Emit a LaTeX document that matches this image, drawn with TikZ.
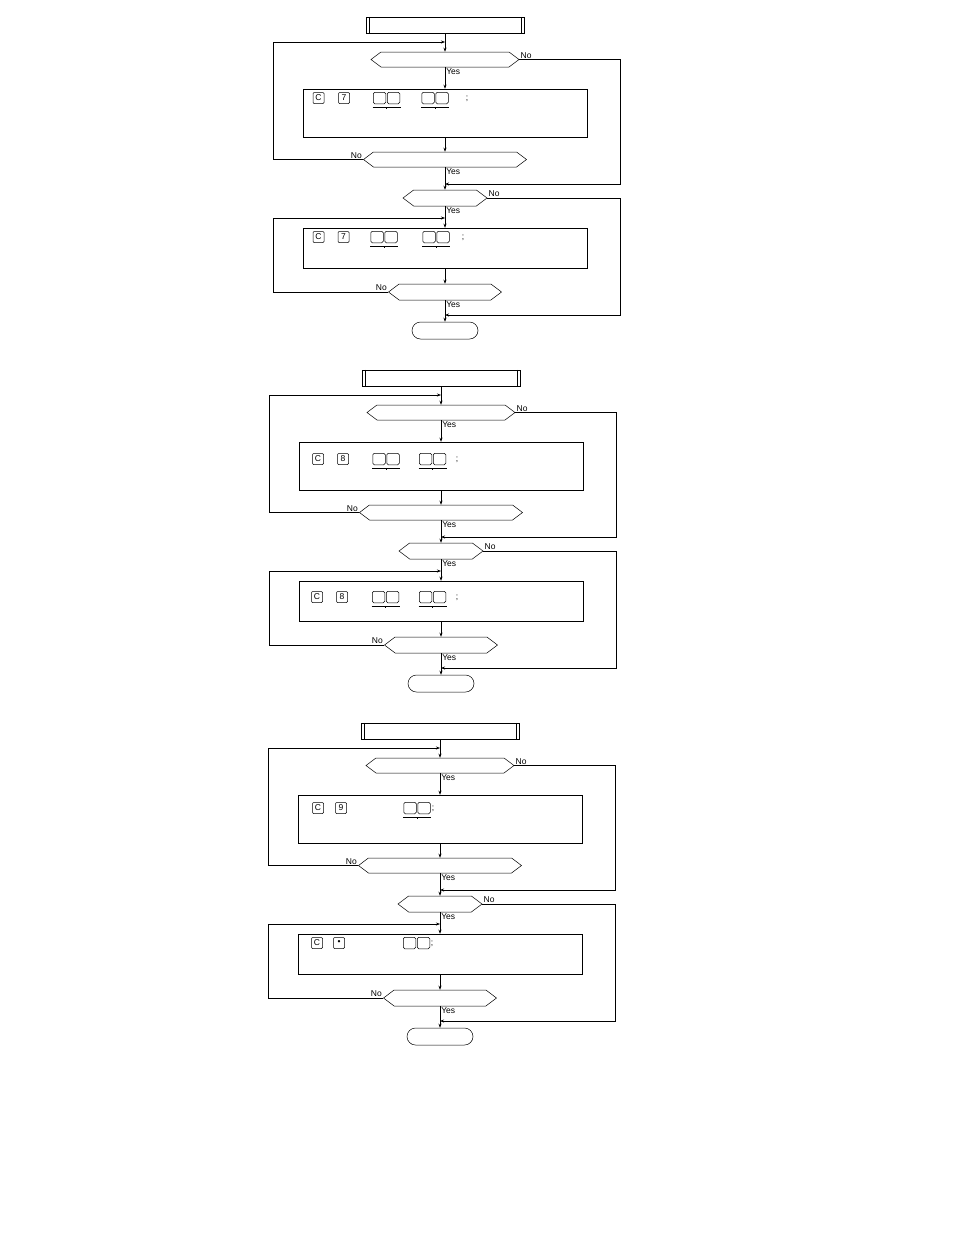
\documentclass[tikz,border=0pt]{standalone}
\usepackage{fontspec}
\setmainfont{Liberation Sans}
\usetikzlibrary{shapes.symbols,shapes.misc,arrows.meta}

\tikzset{
  flow/.style={line width=0.5pt,-{Stealth[length=4pt,width=3pt]}},
  predef/.style={draw,line width=0.5pt,minimum width=158,minimum height=16,inner sep=0pt},
  decide/.style={draw,line width=0.5pt,signal,signal to=east and west,
    signal pointer angle=74,minimum height=15,inner sep=0pt},
  proc/.style={draw,line width=0.5pt,minimum width=284,inner sep=0pt},
  term/.style={draw,line width=0.5pt,rounded rectangle,minimum width=66,
    minimum height=17,inner sep=0pt},
  key/.style={draw,line width=0.5pt,rounded corners=1pt,minimum size=11,
    inner sep=0pt,font=\fontsize{8.5}{9}\selectfont},
  blank/.style={draw,line width=0.5pt,rounded corners=1.5pt,minimum width=12.5,
    minimum height=11.5,inner sep=0pt},
  lab/.style={font=\fontsize{8.5}{9}\selectfont,inner sep=1pt},
  pair/.pic={
    \node[blank] (-l) at (-7,0) {};
    \node[blank] (-r) at (7,0) {};
  },
  lined pair/.pic={
    \node[blank] (-l) at (-7,0) {};
    \node[blank] (-r) at (7,0) {};
    \draw[line width=0.4pt] (-14,9) -- (14,9) (0,9) -- (0,10.5);
  }
}

% one chart: two loops, local coordinates in pixels
\newcommand\chartframe{%
  \node[predef] (top) at (445,25) {};
  \draw[line width=0.5pt] ([xshift=3]top.north west) -- ([xshift=3]top.south west)
    ([xshift=-3]top.north east) -- ([xshift=-3]top.south east);
  \node[decide,minimum width=148] (dA) at (445,59.5) {};
  \node[proc,minimum height=48] (pA) at (445,113) {};
  \node[decide,minimum width=163] (dB) at (445,159.5) {};
  \node[decide,minimum width=84,minimum height=16] (dC) at (445,198) {};
  \node[proc,minimum height=40] (pB) at (445,248) {};
  \node[decide,minimum width=113,minimum height=16] (dD) at (445,292) {};
  \node[term] (stop) at (445,330.5) {};
  \coordinate (inA) at (445,42);
  \coordinate (joinA) at (445,184);
  \coordinate (inB) at (445,218);
  \coordinate (joinB) at (445,315);
  \coordinate (lft) at (273,0);
  \coordinate (rgt) at (620,0);
  % main line
  \draw[flow] (top) -- (dA);
  \draw[flow] (dA) -- node[pos=0,lab,anchor=north west] {Yes} (pA);
  \draw[flow] (pA) -- (dB);
  \draw[flow] (dB) -- node[pos=0,lab,anchor=north west] {Yes} (dC);
  \draw[flow] (dC) -- node[pos=0,lab,anchor=north west] {Yes} (pB);
  \draw[flow] (pB) -- (dD);
  \draw[flow] (dD) -- node[pos=0,lab,anchor=north west] {Yes} (stop);
  % loops
  \draw[flow] (dA.east) node[lab,anchor=south west] {No} -- (dA.east -| rgt) |- (joinA);
  \draw[flow] (dB.west) node[lab,anchor=south east] {No} -- (dB.west -| lft) |- (inA);
  \draw[flow] (dC.east) node[lab,anchor=south west] {No} -- (dC.east -| rgt) |- (joinB);
  \draw[flow] (dD.west) node[lab,anchor=south east] {No} -- (dD.west -| lft) |- (inB);
}

\begin{document}
\begin{tikzpicture}[x=1pt,y=-1pt]
\useasboundingbox (0,0) rectangle (954,1235);

\begin{scope}[name prefix=one-]
  \chartframe
\end{scope}
\begin{scope}[shift={(-4,353)},name prefix=two-]
  \chartframe
\end{scope}
\begin{scope}[shift={(-5,706)},name prefix=three-]
  \chartframe
\end{scope}

% key entries
\node[key] (k1a) at (318.5,98) {C};
\node[key] (k1b) at (344,98) {7};
\pic (p1a) at (386.5,98) {lined pair};
\pic (p1b) at (435,98) {lined pair};
\node[lab] (s1) at (467,99) {;};
\node[key] (k2a) at (318.5,237) {C};
\node[key] (k2b) at (343.5,237) {7};
\pic (p2a) at (384,237) {lined pair};
\pic (p2b) at (436,237) {lined pair};
\node[lab] (s2) at (463,238) {;};

\node[key] (k3a) at (318,459) {C};
\node[key] (k3b) at (343,459) {8};
\pic (p3a) at (386,459) {lined pair};
\pic (p3b) at (432.5,459) {lined pair};
\node[lab] (s3) at (457,460) {;};
\node[key] (k4a) at (317,597) {C};
\node[key] (k4b) at (342,597) {8};
\pic (p4a) at (385.5,597) {lined pair};
\pic (p4b) at (432.5,597) {lined pair};
\node[lab] (s4) at (457,598) {;};

\node[key] (k5a) at (318,808) {C};
\node[key] (k5b) at (341,808) {9};
\pic (p5a) at (417,808) {lined pair};
\node[lab] (s5) at (433,809) {;};
\node[key] (k6a) at (317,943) {C};
\node[key] (k6b) at (339,943) {\textbullet};
\pic (p6a) at (416.5,943) {pair};
\node[lab] (s6) at (432,944) {;};
\end{tikzpicture}
\end{document}
